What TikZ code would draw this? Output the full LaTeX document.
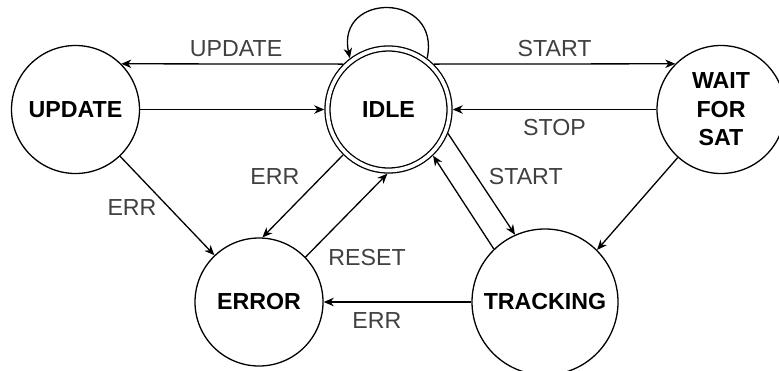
\documentclass[tikz,border=0pt]{standalone}
\usepackage{fontspec}
\setmainfont{Liberation Sans}
\usetikzlibrary{arrows.meta, positioning}

\begin{document}
\begin{tikzpicture}[
      x=0.5pt, y=-0.5pt,
      line width=0.65pt,
      >={Stealth[length=5pt, width=4.2pt, inset=1.5pt]},
      state/.style={circle, draw, minimum size=64pt, inner sep=0pt, align=center,
        font=\fontsize{11.6}{14.2}\selectfont\bfseries},
      lbl/.style={text=black!75, font=\fontsize{11.6}{14}\selectfont, inner sep=2pt}
    ]
      \clip (0,0) rectangle (779,370);

      \node[state] (update) at (75.5,109.5) {UPDATE};
      \node[state, double, double distance=1.85pt, minimum size=61pt, outer sep=1.6pt] (idle) at (388.5,109.5) {IDLE};
      \node[state] (wait) at (721,109.5) {WAIT\\FOR\\SAT};
      \node[state] (error) at (259,302) {ERROR};
      \node[state, minimum size=73pt] (tracking) at (545,302) {TRACKING};

      \draw[->] (idle.135) -- node[lbl, above=1.5pt, xshift=2pt] {UPDATE} (update.45);
      \draw[->] (update) -- (idle);
      \draw[->] (idle.45) -- node[lbl, above=1.5pt] {START} (wait.135);
      \draw[->] (wait) -- node[lbl, below=2.5pt] {STOP} (idle);
      \draw[->] (idle.338) -- node[lbl, pos=.42, right=4pt] {START} (tracking.114);
      \draw[->] (tracking.134) -- (idle.314);
      \draw[->] (wait.228) -- (tracking.45);
      \draw[->] (tracking) -- node[lbl, pos=.64, below=3pt] {ERR} (error);
      \draw[->] (idle.225) -- node[lbl, pos=.26, left=9pt] {ERR} (error.87);
      \draw[->] (error.44) -- node[lbl, pos=.15, below right=0pt and 3pt] {RESET} (idle.269);
      \draw[->] (update) -- node[lbl, pos=.52, left=4pt] {ERR} (error);
      \draw[->] (idle.53) .. controls +(78:34pt) and +(102:34pt) .. (idle.127);
    \end{tikzpicture}
\end{document}
